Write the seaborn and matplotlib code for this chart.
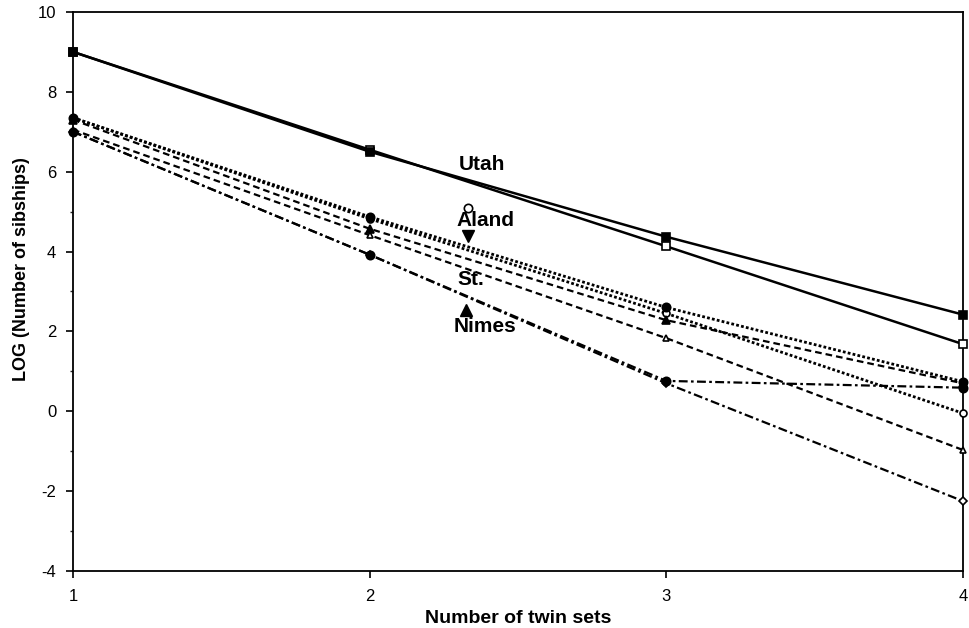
import matplotlib
matplotlib.use("Agg")
import matplotlib.pyplot as plt
import seaborn as sns
import pandas as pd

# ---- data -------------------------------------------------------------
twin_sets = [1, 2, 3, 4]
utah_obs = [9.0, 6.50, 4.37, 2.42]
utah_exp = [9.0, 6.55, 4.13, 1.68]
aland_obs = [7.35, 4.87, 2.60, 0.74]
aland_exp = [7.35, 4.82, 2.45, -0.05]
nimes_obs = [7.30, 4.57, 2.28, 0.70]
nimes_exp = [7.05, 4.41, 1.83, -0.97]
st_obs = [7.00, 3.92, 0.76, 0.59]
st_exp = [7.00, 3.92, 0.70, -2.25]

y_ticks = [-4, -2, 0, 2, 4, 6, 8, 10]
x_ticks = [1, 2, 3, 4]

# ---- figure -----------------------------------------------------------
sns.set_style("ticks")
plt.rcParams["font.family"] = ["Liberation Sans", "DejaVu Sans"]
plt.rcParams["axes.labelcolor"] = "black"
plt.rcParams["text.color"] = "black"

fig = plt.figure(figsize=(9.69, 6.28), dpi=100)
ax = fig.add_axes([0.0753, 0.0908, 0.9185, 0.8902])

# open-marker (expected) series first, filled (observed) on top
series = [
    (utah_exp, "-", None, "s", "white", 5.5),
    (aland_exp, ":", (1, 0.8), "o", "white", 5),
    (nimes_exp, "--", (3, 1.8), "^", "white", 5),
    (st_exp, "-.", (4, 1.5, 1.2, 1.5), "D", "white", 4),
    (utah_obs, "-", None, "s", "black", 5.5),
    (aland_obs, ":", (1, 0.8), "o", "black", 6),
    (nimes_obs, "--", (3, 1.8), "^", "black", 5.5),
    (st_obs, "-.", (4, 1.5, 1.2, 1.5), "o", "black", 6),
]

for vals, ls, dash, mk, mfc, ms in series:
    df = pd.DataFrame({"x": twin_sets, "y": vals})
    lw = 1.8 if ls == "-" else (2.0 if ls == ":" else 1.6)
    sns.lineplot(x="x", y="y", data=df, ax=ax, color="black", linewidth=lw,
                 marker=mk, markersize=ms, markerfacecolor=mfc,
                 markeredgecolor="black", markeredgewidth=1.2,
                 clip_on=False, zorder=3)
    ln = ax.lines[-1]
    if dash is not None:
        ln.set_dashes(dash)

# ---- in-plot labels (annotation layout) ------------------------------
txt_kw = dict(fontsize=15, fontweight="bold", ha="center", va="center", color="black")
ax.text(2.38, 6.18, "Utah", **txt_kw)
ax.plot([2.33], [5.08], marker="o", markersize=6, markerfacecolor="white",
        markeredgecolor="black", markeredgewidth=1.2, linestyle="none")
ax.text(2.39, 4.78, "Aland", **txt_kw)
ax.plot([2.33], [4.38], marker="v", markersize=8, color="black", linestyle="none")
ax.text(2.34, 3.30, "St.", **txt_kw)
ax.plot([2.325], [2.53], marker="^", markersize=8, color="black", linestyle="none")
ax.text(2.39, 2.12, "Nimes", **txt_kw)

# ---- axes -------------------------------------------------------------
ax.set_xlim(1, 4)
ax.set_ylim(-4, 10)
ax.set_xticks(x_ticks)
ax.set_xticklabels([str(t) for t in x_ticks])
ax.set_yticks(y_ticks)
ax.set_yticklabels([str(t) for t in y_ticks])
ax.set_yticks([-3, -1, 1, 3, 5, 7, 9], minor=True)
ax.tick_params(axis="both", which="major", labelsize=12, length=5, width=1.2,
               direction="out", colors="black")
ax.tick_params(axis="y", which="major", pad=7)
ax.tick_params(axis="x", which="major", pad=8)
ax.tick_params(axis="y", which="minor", length=2.5, width=1.0, direction="out")
for sp in ax.spines.values():
    sp.set_visible(True)
    sp.set_linewidth(1.3)
    sp.set_color("black")

ax.set_xlabel("Number of twin sets", fontsize=14, fontweight="bold", labelpad=4)
ax.set_ylabel("LOG (Number of sibships)", fontsize=13, fontweight="bold")
ax.yaxis.set_label_coords(-0.048, 0.54)

fig.savefig("out.png", dpi=100)
